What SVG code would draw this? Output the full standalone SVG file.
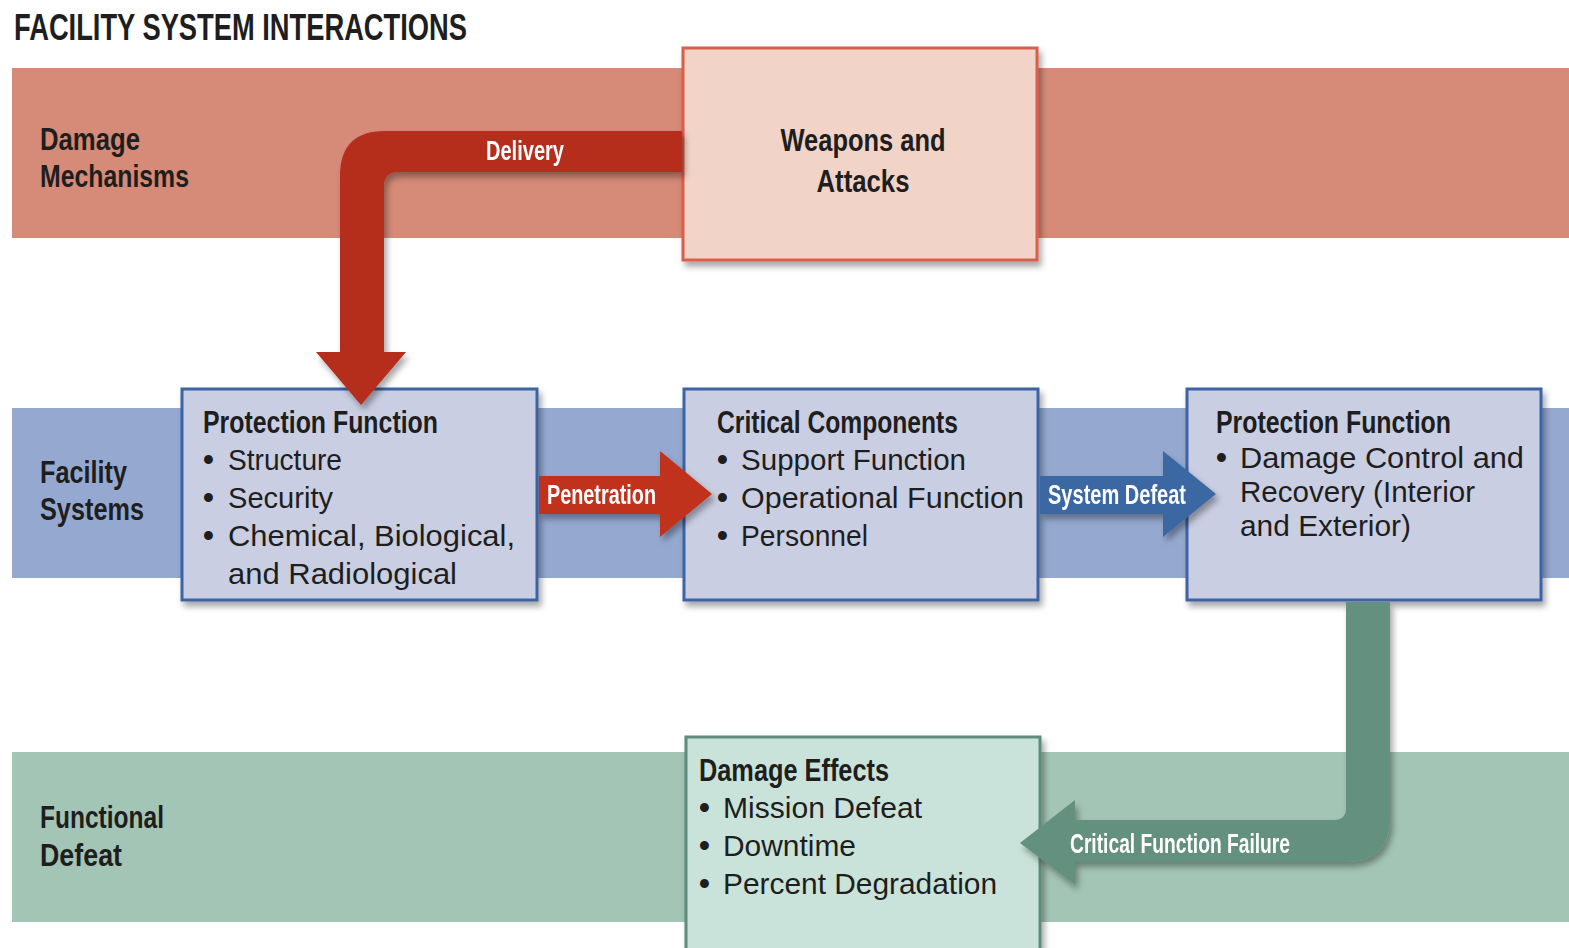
<svg xmlns="http://www.w3.org/2000/svg" width="1569" height="948" viewBox="0 0 1569 948">
<defs>
<filter id="sh" x="-10%" y="-10%" width="130%" height="130%">
<feDropShadow dx="3" dy="5" stdDeviation="3" flood-color="#000" flood-opacity="0.35"/>
</filter>
<style>
.bandlbl{font-family:"Liberation Sans",Arial,sans-serif;font-weight:bold;font-size:31px;fill:#1e1e1e}
.head{font-family:"Liberation Sans",Arial,sans-serif;font-weight:bold;font-size:32px;fill:#1e1e1e}
.item{font-family:"Liberation Sans",Arial,sans-serif;font-size:29px;fill:#1e1e1e}
.bul{font-size:31px;font-weight:bold}
.alab{font-family:"Liberation Sans",Arial,sans-serif;font-weight:bold;font-size:27px;fill:#ffffff}
.rbox{fill:#f2d3c7;stroke:#d95f4b;stroke-width:3}
.bbox{fill:#c9cee2;stroke:#3e64a3;stroke-width:3}
.gbox{fill:#c9e3da;stroke:#5f8b7b;stroke-width:3}
</style>
</defs>
<rect width="1569" height="948" fill="#ffffff"/>
<text x="14" y="40" font-family="'Liberation Sans',Arial,sans-serif" font-weight="bold" font-size="36" fill="#1e1e1e" textLength="453" lengthAdjust="spacingAndGlyphs">FACILITY SYSTEM INTERACTIONS</text>
<g id="bands">
<rect x="12" y="68" width="1557" height="170" fill="#d68a78"/>
<rect x="12" y="408" width="1557" height="170" fill="#95a9d0"/>
<rect x="12" y="752" width="1557" height="170" fill="#a3c5b5"/>
<text class="bandlbl"><tspan x="40" y="150" textLength="100" lengthAdjust="spacingAndGlyphs">Damage</tspan><tspan x="40" y="187" textLength="149" lengthAdjust="spacingAndGlyphs">Mechanisms</tspan></text>
<text class="bandlbl"><tspan x="40" y="483" textLength="87" lengthAdjust="spacingAndGlyphs">Facility</tspan><tspan x="40" y="520" textLength="104" lengthAdjust="spacingAndGlyphs">Systems</tspan></text>
<text class="bandlbl"><tspan x="40" y="828" textLength="124" lengthAdjust="spacingAndGlyphs">Functional</tspan><tspan x="40" y="866" textLength="82" lengthAdjust="spacingAndGlyphs">Defeat</tspan></text>
</g>
<g id="weapons">
<rect class="rbox" x="683" y="48" width="354" height="212" filter="url(#sh)"/>
<text class="head" x="863" y="151" text-anchor="middle" textLength="165" lengthAdjust="spacingAndGlyphs">Weapons and</text>
<text class="head" x="863" y="192" text-anchor="middle" textLength="93" lengthAdjust="spacingAndGlyphs">Attacks</text>
</g>
<g id="protection1">
<rect class="bbox" x="182" y="389" width="355" height="211" filter="url(#sh)"/>
<text class="head" x="203" y="433" textLength="235" lengthAdjust="spacingAndGlyphs">Protection Function</text>
<text class="item" x="203" y="470"><tspan class="bul">•</tspan><tspan x="228" textLength="114" lengthAdjust="spacingAndGlyphs">Structure</tspan></text>
<text class="item" x="203" y="508"><tspan class="bul">•</tspan><tspan x="228" textLength="105" lengthAdjust="spacingAndGlyphs">Security</tspan></text>
<text class="item" x="203" y="546"><tspan class="bul">•</tspan><tspan x="228" textLength="287" lengthAdjust="spacingAndGlyphs">Chemical, Biological,</tspan><tspan x="228" y="584" textLength="229" lengthAdjust="spacingAndGlyphs">and Radiological</tspan></text>
</g>
<g id="critical">
<rect class="bbox" x="684" y="389" width="354" height="211" filter="url(#sh)"/>
<text class="head" x="717" y="433" textLength="241" lengthAdjust="spacingAndGlyphs">Critical Components</text>
<text class="item" x="717" y="470"><tspan class="bul">•</tspan><tspan x="741" textLength="225" lengthAdjust="spacingAndGlyphs">Support Function</tspan></text>
<text class="item" x="717" y="508"><tspan class="bul">•</tspan><tspan x="741" textLength="283" lengthAdjust="spacingAndGlyphs">Operational Function</tspan></text>
<text class="item" x="717" y="546"><tspan class="bul">•</tspan><tspan x="741" textLength="127" lengthAdjust="spacingAndGlyphs">Personnel</tspan></text>
</g>
<g id="protection2">
<rect class="bbox" x="1187" y="389" width="354" height="211" filter="url(#sh)"/>
<text class="head" x="1216" y="433" textLength="235" lengthAdjust="spacingAndGlyphs">Protection Function</text>
<text class="item" x="1216" y="468"><tspan class="bul">•</tspan><tspan x="1240" textLength="284" lengthAdjust="spacingAndGlyphs">Damage Control and</tspan><tspan x="1240" y="502" textLength="235" lengthAdjust="spacingAndGlyphs">Recovery (Interior</tspan><tspan x="1240" y="536" textLength="171" lengthAdjust="spacingAndGlyphs">and Exterior)</tspan></text>
</g>
<g id="effects">
<rect class="gbox" x="686" y="737" width="354" height="215" filter="url(#sh)"/>
<text class="head" x="699" y="781" textLength="190" lengthAdjust="spacingAndGlyphs">Damage Effects</text>
<text class="item" x="699" y="818"><tspan class="bul">•</tspan><tspan x="723" textLength="199" lengthAdjust="spacingAndGlyphs">Mission Defeat</tspan></text>
<text class="item" x="699" y="856"><tspan class="bul">•</tspan><tspan x="723" textLength="133" lengthAdjust="spacingAndGlyphs">Downtime</tspan></text>
<text class="item" x="699" y="894"><tspan class="bul">•</tspan><tspan x="723" textLength="274" lengthAdjust="spacingAndGlyphs">Percent Degradation</tspan></text>
</g>
<g id="connectors">
<g id="delivery" filter="url(#sh)">
<path d="M682,131 L385,131 Q340,131 340,176 L340,352 L316,352 L361,405 L406,352 L384,352 L384,186 Q384,172 398,172 L682,172 Z" fill="#b52d1f"/>
<text class="alab" x="486" y="160" textLength="78" lengthAdjust="spacingAndGlyphs">Delivery</text>
</g>
<g id="penetration" filter="url(#sh)">
<path d="M539,476 L660,476 L660,451 L712,494 L660,537 L660,514 L539,514 Z" fill="#c0321f"/>
<text class="alab" x="547" y="504" textLength="109" lengthAdjust="spacingAndGlyphs">Penetration</text>
</g>
<g id="systemdefeat" filter="url(#sh)">
<path d="M1040,476 L1163,476 L1163,451 L1216,494 L1163,537 L1163,514 L1040,514 Z" fill="#3b67a3"/>
<text class="alab" x="1048" y="504" textLength="138" lengthAdjust="spacingAndGlyphs">System Defeat</text>
</g>
<g id="cff" filter="url(#sh)">
<path d="M1390,602 L1390,817 Q1390,862 1345,862 L1075,862 L1075,885 L1020,843 L1075,800 L1075,820 L1334,820 Q1346,820 1346,808 L1346,602 Z" fill="#64907f"/>
<text class="alab" x="1070" y="853" textLength="220" lengthAdjust="spacingAndGlyphs">Critical Function Failure</text>
</g>
</g>
</svg>
